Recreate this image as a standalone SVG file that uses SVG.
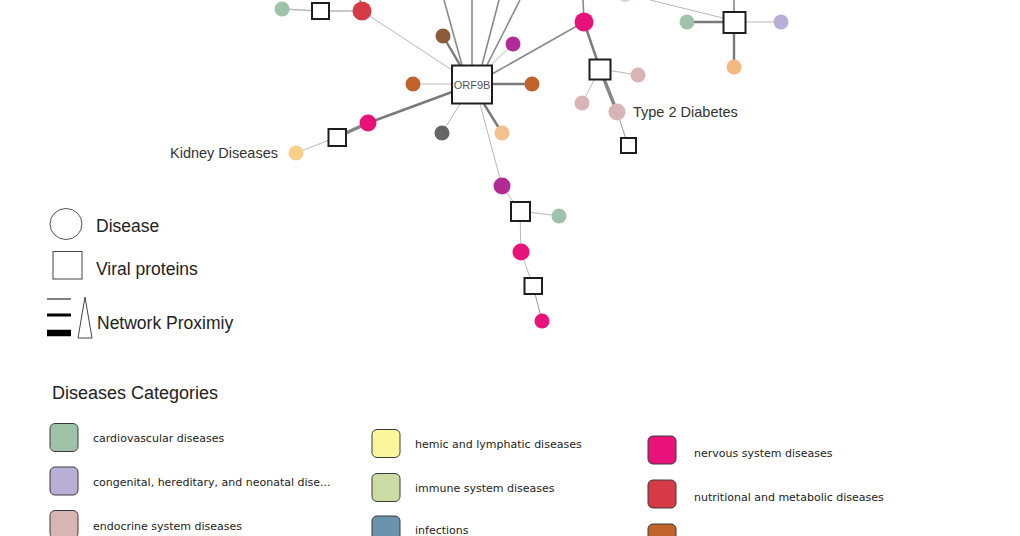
<svg xmlns="http://www.w3.org/2000/svg" width="1020" height="536" viewBox="0 0 1020 536">
<style>
.e1{stroke:#b8b8b8;stroke-width:1;fill:none}
.e2{stroke:#8a8a8a;stroke-width:1.6;fill:none}
.e3{stroke:#7a7a7a;stroke-width:2.4;fill:none}
.e4{stroke:#858585;stroke-width:3.4;fill:none}
.vp{fill:#fff;stroke:#1e1e1e;stroke-width:2}
.lbl{font-family:"Liberation Sans",Arial,sans-serif;font-size:14.5px;fill:#333}
.lg{font-family:"Liberation Sans",Arial,sans-serif;font-size:17.5px;fill:#222}
.cat{font-family:"DejaVu Sans",sans-serif;font-size:11px;fill:#222}
.sw{stroke:#3a3a3a;stroke-width:1;rx:5}
</style>
<g id="connectors">
<line class="e2" x1="444" y1="0" x2="462" y2="65"/>
<line class="e2" x1="472" y1="0" x2="472" y2="65"/>
<line class="e2" x1="499" y1="0" x2="482" y2="65"/>
<line class="e2" x1="520" y1="0" x2="487" y2="65"/>
<line class="e3" x1="443" y1="36" x2="460" y2="65"/>
<line class="e1" x1="513" y1="44" x2="490" y2="66"/>
<line class="e2" x1="584" y1="22" x2="492" y2="74"/>
<line class="e1" x1="362" y1="11" x2="452" y2="70"/>
<line class="e1" x1="413" y1="84" x2="452" y2="84"/>
<line class="e3" x1="532" y1="84" x2="492" y2="84"/>
<line class="e3" x1="368" y1="123" x2="452" y2="92"/>
<line class="e1" x1="442" y1="133" x2="460" y2="104"/>
<line class="e3" x1="502" y1="133" x2="484" y2="104"/>
<line class="e1" x1="502" y1="186" x2="480" y2="104"/>
<line class="e4" x1="368" y1="123" x2="337" y2="137"/>
<line class="e1" x1="337" y1="137" x2="296" y2="153"/>
<line class="e1" x1="282" y1="9" x2="320" y2="11" style="stroke-width:1.6"/>
<line class="e1" x1="320" y1="11" x2="362" y2="11" style="stroke-width:1.6"/>
<line class="e2" x1="360" y1="0" x2="362" y2="11"/>
<line class="e2" x1="583" y1="0" x2="584" y2="22"/>
<line class="e3" x1="584" y1="22" x2="600" y2="69"/>
<line class="e1" x1="600" y1="69" x2="638" y2="75"/>
<line class="e1" x1="600" y1="69" x2="582" y2="103"/>
<line class="e4" x1="600" y1="69" x2="617" y2="112"/>
<line class="e1" x1="617" y1="112" x2="628" y2="145" style="stroke:#999"/>
<line class="e3" x1="734" y1="22" x2="687" y2="22"/>
<line class="e1" x1="734" y1="22" x2="781" y2="22"/>
<line class="e3" x1="734" y1="22" x2="734" y2="67"/>
<line class="e2" x1="734" y1="22" x2="734" y2="0"/>
<line class="e1" x1="650" y1="0" x2="723" y2="18"/>
<line class="e1" x1="502" y1="186" x2="520" y2="211"/>
<line class="e1" x1="520" y1="211" x2="559" y2="216"/>
<line class="e1" x1="520" y1="211" x2="521" y2="252"/>
<line class="e1" x1="521" y1="252" x2="533" y2="286"/>
<line class="e1" x1="533" y1="286" x2="542" y2="321" style="stroke:#999"/>
</g>
<g id="diseases">
<circle id="d-top-faint" cx="625" cy="-5" r="7" fill="#e6cfcf"/>
<circle id="d-green-tl" cx="282" cy="9" r="7.5" fill="#9ec3a9"/>
<circle id="d-red" cx="362" cy="11" r="9.5" fill="#d63a46"/>
<circle id="d-brown" cx="443" cy="36" r="7.5" fill="#8e5b3a"/>
<circle id="d-purple1" cx="513" cy="44" r="7.5" fill="#b22a96"/>
<circle id="d-pink1" cx="584" cy="22" r="9.5" fill="#e8127a"/>
<circle id="d-orangeL" cx="413" cy="84" r="7.5" fill="#c0622a"/>
<circle id="d-orangeR" cx="532" cy="84" r="7.5" fill="#c0622a"/>
<circle id="d-pink2" cx="368" cy="123" r="8.5" fill="#e8127a"/>
<circle id="d-kidney" cx="296" cy="153" r="7.5" fill="#f8d088"/>
<circle id="d-gray" cx="442" cy="133" r="7.5" fill="#666666"/>
<circle id="d-peach" cx="502" cy="133" r="7.5" fill="#f5c08f"/>
<circle id="d-purple2" cx="502" cy="186" r="8.5" fill="#b22a96"/>
<circle id="d-green-b" cx="559" cy="216" r="7.5" fill="#9ec3a9"/>
<circle id="d-pink3" cx="521" cy="252" r="8.5" fill="#e8127a"/>
<circle id="d-pink4" cx="542" cy="321" r="7.5" fill="#e8127a"/>
<circle id="d-endo1" cx="638" cy="75" r="7.5" fill="#d9b4b4"/>
<circle id="d-endo2" cx="582" cy="103" r="7.5" fill="#d9b4b4"/>
<circle id="d-t2d" cx="617" cy="112" r="8.5" fill="#d9b4b4"/>
<circle id="d-green-tr" cx="687" cy="22" r="7.5" fill="#9ec3a9"/>
<circle id="d-lav" cx="781" cy="22" r="7.5" fill="#b8aed6"/>
<circle id="d-orange-tr" cx="734" cy="67" r="7.5" fill="#f6b880"/>
</g>
<g id="proteins">
<g id="orf9b"><rect class="vp" x="452" y="65.5" width="40" height="38"/><text x="472" y="89" text-anchor="middle" font-family="Liberation Sans,Arial,sans-serif" font-size="11" fill="#555">ORF9B</text></g>
<rect id="p-tl" class="vp" x="312" y="3" width="17" height="16"/>
<rect id="p-left" class="vp" x="328.5" y="129" width="17.5" height="17"/>
<rect id="p-right" class="vp" x="589.5" y="59.5" width="21" height="20"/>
<rect id="p-t2d" class="vp" x="621" y="138" width="15" height="15"/>
<rect id="p-tr" class="vp" x="723.5" y="12" width="22" height="21"/>
<rect id="p-b1" class="vp" x="511" y="202" width="19" height="19"/>
<rect id="p-b2" class="vp" x="524.5" y="278" width="17.5" height="16"/>
</g>
<g id="labels">
<text class="lbl" x="170" y="158">Kidney Diseases</text>
<text class="lbl" x="633" y="117">Type 2 Diabetes</text>
</g>
<g id="legend">
<ellipse cx="66" cy="224" rx="16" ry="15.5" fill="#fff" stroke="#555" stroke-width="1"/>
<text class="lg" x="96" y="232">Disease</text>
<rect x="53" y="251.5" width="29" height="27.5" fill="#fff" stroke="#444" stroke-width="1"/>
<text class="lg" x="96" y="275">Viral proteins</text>
<line x1="47" y1="299" x2="71" y2="299" stroke="#000" stroke-width="1"/>
<line x1="47" y1="315" x2="71" y2="315" stroke="#000" stroke-width="3"/>
<line x1="47" y1="333" x2="71" y2="333" stroke="#000" stroke-width="6.5"/>
<polygon points="85,297 78,338 92,338" fill="#fff" stroke="#444" stroke-width="1"/>
<text class="lg" x="97" y="329">Network Proximiy</text>
<text x="52" y="399" font-family="Liberation Sans,Arial,sans-serif" font-size="18" fill="#222">Diseases Categories</text>
<rect class="sw" x="50" y="423.5" width="28" height="28" fill="#9ec3a9"/>
<text class="cat" x="93" y="442">cardiovascular diseases</text>
<rect class="sw" x="50" y="467" width="28" height="28" fill="#b8aed6"/>
<text class="cat" x="93" y="486">congenital, hereditary, and neonatal dise...</text>
<rect class="sw" x="50" y="510.5" width="28" height="28" fill="#d9b4b4"/>
<text class="cat" x="93" y="530">endocrine system diseases</text>
<rect class="sw" x="372" y="429.5" width="28" height="28" fill="#fbf59b"/>
<text class="cat" x="415" y="448">hemic and lymphatic diseases</text>
<rect class="sw" x="372" y="473.5" width="28" height="28" fill="#ccdba4"/>
<text class="cat" x="415" y="492">immune system diseases</text>
<rect class="sw" x="372" y="516" width="28" height="28" fill="#6a93ae"/>
<text class="cat" x="415" y="533.5">infections</text>
<rect class="sw" x="648" y="436" width="28" height="28" fill="#e8127a"/>
<text class="cat" x="694" y="457">nervous system diseases</text>
<rect class="sw" x="648" y="480" width="28" height="28" fill="#d63a46"/>
<text class="cat" x="694" y="501">nutritional and metabolic diseases</text>
<rect class="sw" x="648" y="524" width="28" height="28" fill="#c0622a"/>
</g>
</svg>
